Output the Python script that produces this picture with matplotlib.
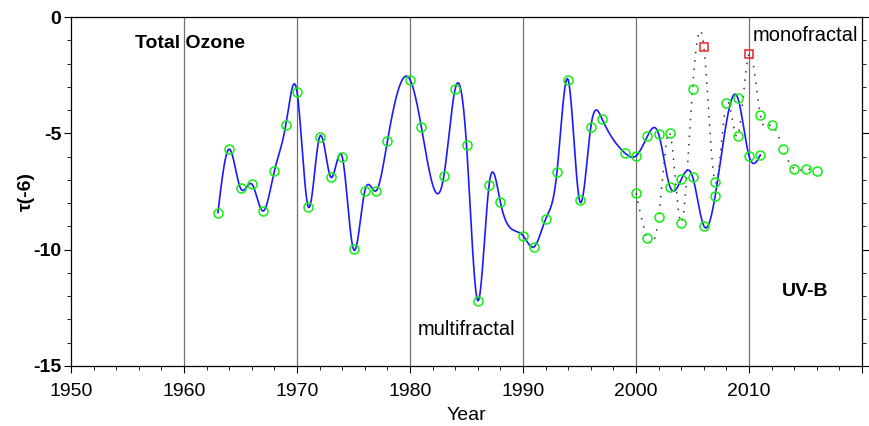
import numpy as np
import matplotlib
matplotlib.use("Agg")
import matplotlib.pyplot as plt
from matplotlib.ticker import MultipleLocator

plt.rcParams['font.family'] = ['Liberation Sans', 'DejaVu Sans']

# multifractal series (blue spline + green circles)
multi_years = [1963, 1964, 1965, 1966, 1967, 1968, 1969, 1970, 1971, 1972, 1973, 1974,
               1975, 1976, 1977, 1978, 1980, 1981, 1983, 1984, 1985, 1986, 1987, 1988,
               1990, 1991, 1992, 1993, 1994, 1995, 1996, 1997, 1999, 2000, 2001, 2002,
               2003, 2004, 2005, 2006, 2007, 2009, 2010, 2011]
multi_tau = [-8.41, -5.68, -7.36, -7.18, -8.34, -6.61, -4.66, -3.21, -8.16, -5.15, -6.89, -6.01,
             -9.99, -7.48, -7.47, -5.33, -2.69, -4.72, -6.82, -3.08, -5.50, -12.19, -7.21, -7.97,
             -9.40, -9.87, -8.69, -6.68, -2.71, -7.88, -4.72, -4.39, -5.84, -5.97, -5.13, -5.03,
             -7.29, -6.98, -6.86, -8.98, -7.70, -3.47, -5.97, -5.93]

# monofractal series (dotted spline + green circles, red squares)
mono_years = [2000, 2001, 2002, 2003, 2004, 2005, 2006, 2007, 2008, 2009, 2010,
              2011, 2012, 2013, 2014, 2015, 2016]
mono_tau = [-7.58, -9.50, -8.58, -5.00, -8.84, -3.09, -1.28, -7.10, -3.71, -5.11, -1.59,
            -4.22, -4.64, -5.66, -6.52, -6.55, -6.60]
red_years = [2006, 2010]

x_ticks = [1950, 1960, 1970, 1980, 1990, 2000, 2010, 2020]
x_labels = ['1950', '1960', '1970', '1980', '1990', '2000', '2010', '']
y_ticks = [0, -5, -10, -15]
grid_years = [1960, 1970, 1980, 1990, 2000, 2010]


def natural_spline(x, y, xs):
    x = np.asarray(x, float)
    y = np.asarray(y, float)
    n = len(x)
    h = np.diff(x)
    A = np.zeros((n, n))
    b = np.zeros(n)
    A[0, 0] = 1
    A[-1, -1] = 1
    for i in range(1, n - 1):
        A[i, i - 1] = h[i - 1]
        A[i, i] = 2 * (h[i - 1] + h[i])
        A[i, i + 1] = h[i]
        b[i] = 3 * ((y[i + 1] - y[i]) / h[i] - (y[i] - y[i - 1]) / h[i - 1])
    c = np.linalg.solve(A, b)
    bb = (np.diff(y) / h) - h * (2 * c[:-1] + c[1:]) / 3
    d = np.diff(c) / (3 * h)
    idx = np.clip(np.searchsorted(x, xs) - 1, 0, n - 2)
    dx = xs - x[idx]
    return y[idx] + bb[idx] * dx + c[idx] * dx ** 2 + d[idx] * dx ** 3


fig = plt.figure(figsize=(8.69, 4.26), dpi=100)
ax = fig.add_axes([0.0817, 0.141, 0.9103, 0.819])

for g in grid_years:
    ax.axvline(g, color='#707070', lw=0.9, zorder=1)

# dotted monofractal spline
xs_m = np.linspace(mono_years[0], mono_years[-1], 800)
ax.plot(xs_m, natural_spline(mono_years, mono_tau, xs_m), color='#333333',
        lw=1.1, linestyle=(0, (1, 4.5)), zorder=2)

# blue multifractal spline
xs = np.linspace(multi_years[0], multi_years[-1], 2000)
ax.plot(xs, natural_spline(multi_years, multi_tau, xs), color='#1a1aff', lw=1.2, zorder=3)

ax.plot(multi_years, multi_tau, 'o', ms=6.5, mfc='none', mec='#11f011', mew=1.1, zorder=4)
m_green = [(yy, t) for yy, t in zip(mono_years, mono_tau) if yy not in red_years]
ax.plot([p[0] for p in m_green], [p[1] for p in m_green], 'o', ms=6.5, mfc='none',
        mec='#11f011', mew=1.1, zorder=4)
m_red = [(yy, t) for yy, t in zip(mono_years, mono_tau) if yy in red_years]
ax.plot([p[0] for p in m_red], [p[1] for p in m_red], 's', ms=6, mfc='none',
        mec='#ee2222', mew=1.1, zorder=5)

ax.set_xlim(1950, 2020)
ax.set_ylim(-15, 0)
ax.set_xticks(x_ticks)
ax.set_xticklabels(x_labels)
ax.set_yticks(y_ticks)
ax.set_yticklabels(['0', '-5', '-10', '-15'])
ax.xaxis.set_minor_locator(MultipleLocator(2))
ax.yaxis.set_minor_locator(MultipleLocator(1))
ax.tick_params(axis='x', which='major', labelsize=14, length=5, width=0.8, direction='out', pad=7)
ax.tick_params(axis='x', which='minor', length=3, width=0.6, direction='out')
ax.tick_params(axis='y', which='major', labelsize=14, length=5, width=0.8, direction='out',
               right=True, pad=2)
ax.tick_params(axis='y', which='minor', length=3, width=0.6, direction='out', right=True)
for lab in ax.get_yticklabels():
    lab.set_fontweight('bold')
for s in ax.spines.values():
    s.set_linewidth(0.9)

ax.set_xlabel('Year', fontsize=14, labelpad=5)
ax.set_ylabel('τ(-6)', fontsize=14, fontweight='bold', labelpad=-1)

ax.text(1955.7, -1.15, 'Total Ozone', fontsize=14, fontweight='bold', va='center', ha='left')
ax.text(1985.0, -13.45, 'multifractal', fontsize=14.5, va='center', ha='center')
ax.text(2010.3, -0.81, 'monofractal', fontsize=14.5, va='center', ha='left')
ax.text(2012.9, -11.8, 'UV-B', fontsize=14, fontweight='bold', va='center', ha='left')

fig.savefig('out.png', dpi=100)
